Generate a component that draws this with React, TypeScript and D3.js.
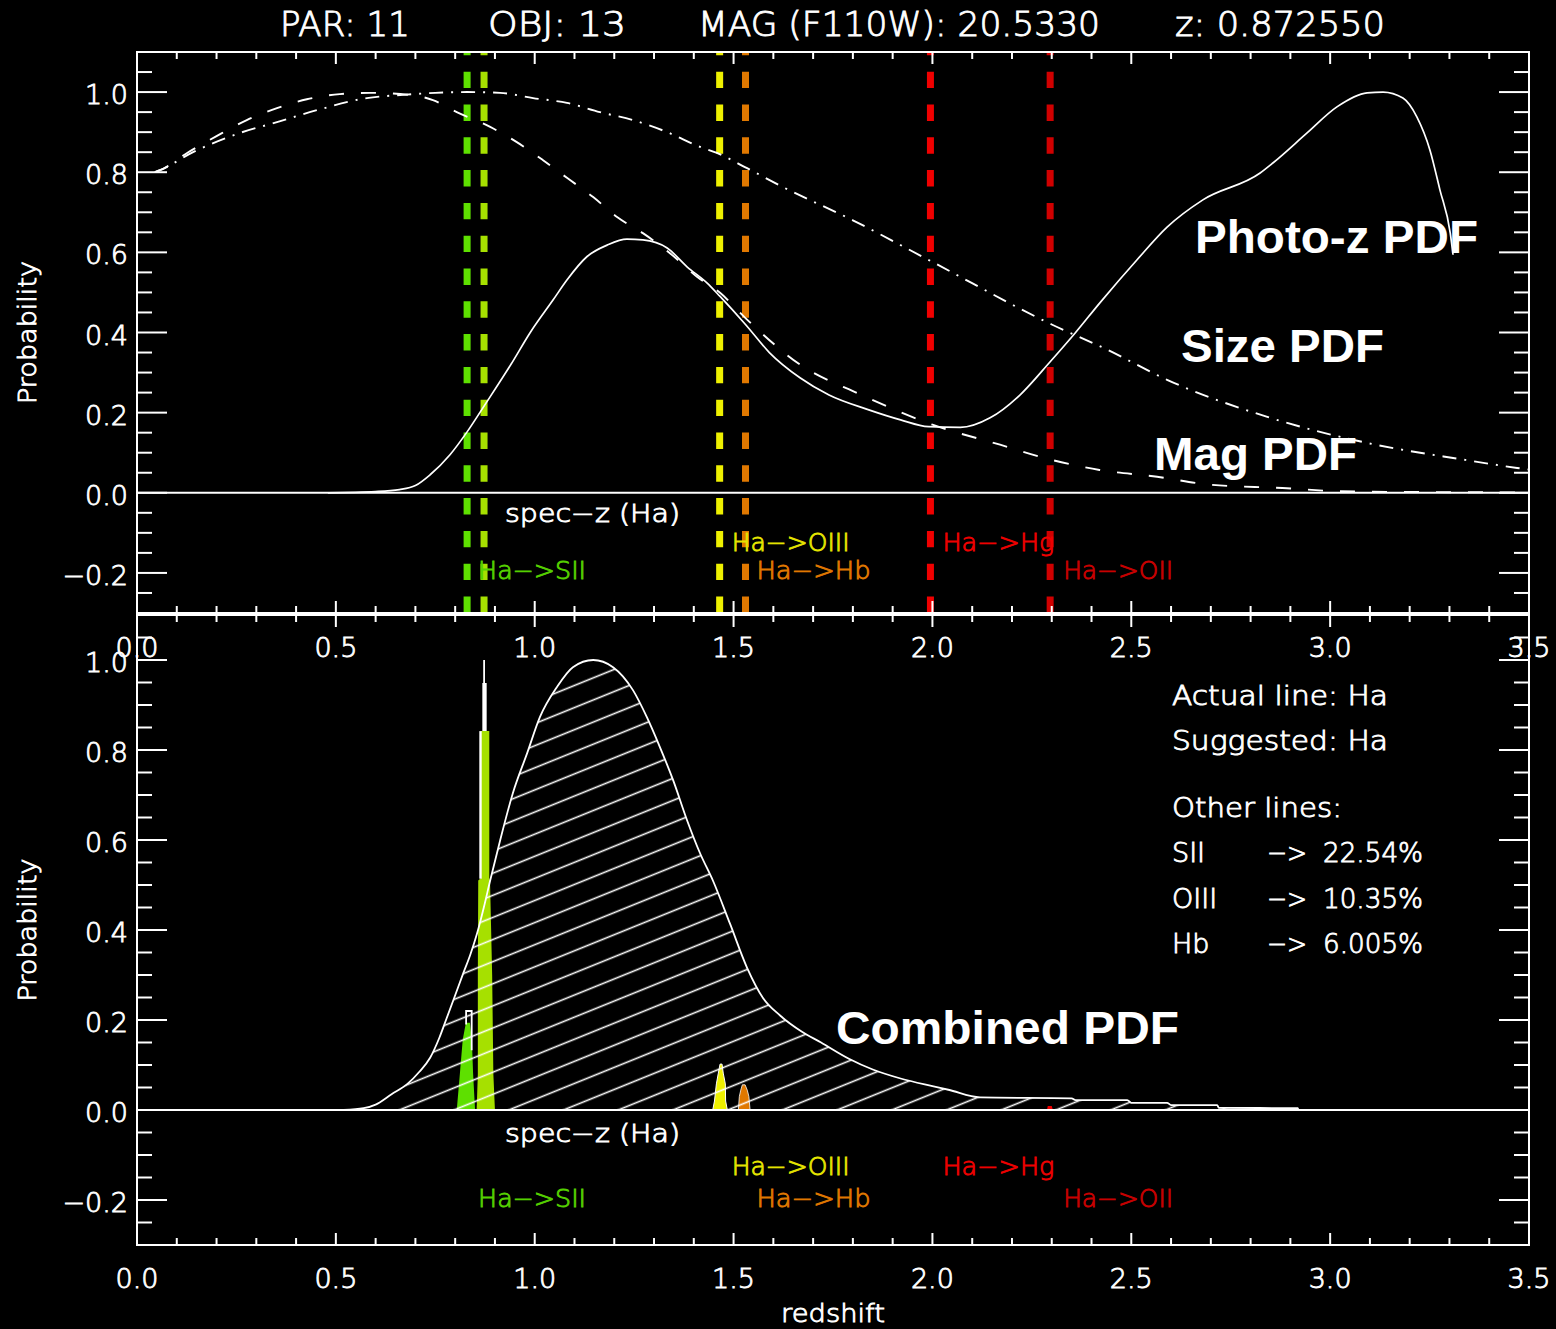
import React from 'react';
import * as d3 from 'd3';

// ---------------- data ----------------
const titleParts = ['PAR: 11', 'OBJ: 13', 'MAG (F110W): 20.5330', 'z: 0.872550'];

const xMajorTicks = [0, 0.5, 1.0, 1.5, 2.0, 2.5, 3.0, 3.5];
const xTickLabels = ['0.0', '0.5', '1.0', '1.5', '2.0', '2.5', '3.0', '3.5'];
const yMajorTicks = [-0.2, 0.0, 0.2, 0.4, 0.6, 0.8, 1.0];
const yTickLabels = ['\u22120.2', '0.0', '0.2', '0.4', '0.6', '0.8', '1.0'];

// Photo-z PDF (solid)
const photoZ: [number, number][] = [
  [0.48, 0], [0.6, 0.003], [0.66, 0.008], [0.70, 0.018], [0.737, 0.045], [0.787, 0.095],
  [0.83, 0.152], [0.875, 0.22], [0.94, 0.32], [0.99, 0.402], [1.046, 0.481], [1.081, 0.531],
  [1.131, 0.589], [1.182, 0.618], [1.232, 0.633], [1.272, 0.631], [1.333, 0.611], [1.383, 0.564],
  [1.433, 0.524], [1.466, 0.49], [1.53, 0.42], [1.59, 0.35], [1.667, 0.287], [1.74, 0.244],
  [1.84, 0.207], [1.92, 0.182], [1.99, 0.165], [2.07, 0.163], [2.145, 0.187], [2.22, 0.244],
  [2.296, 0.327], [2.36, 0.40], [2.421, 0.474], [2.514, 0.581], [2.59, 0.663], [2.68, 0.731],
  [2.824, 0.798], [2.856, 0.823], [2.942, 0.898], [3.017, 0.963], [3.093, 0.998], [3.133, 1.0],
  [3.183, 0.985], [3.218, 0.938], [3.251, 0.855], [3.276, 0.756], [3.302, 0.648], [3.309, 0.594],
];

// Mag PDF (dashed)
const magPdf: [number, number][] = [
  [0.045, 0.80], [0.058, 0.805], [0.126, 0.848], [0.2, 0.89], [0.276, 0.93], [0.352, 0.96],
  [0.427, 0.982], [0.51, 0.995], [0.586, 0.998], [0.686, 0.993], [0.744, 0.98], [0.804, 0.95],
  [0.888, 0.913], [0.955, 0.875], [1.021, 0.83], [1.081, 0.786], [1.147, 0.738], [1.207, 0.688],
  [1.272, 0.648], [1.34, 0.598], [1.408, 0.539], [1.466, 0.499], [1.53, 0.436], [1.667, 0.32],
  [1.82, 0.245], [2.0, 0.17], [2.17, 0.12], [2.3, 0.082], [2.42, 0.057], [2.565, 0.04],
  [2.7, 0.02], [2.88, 0.012], [3.02, 0.004], [3.2, 0.002], [3.48, 0.001],
];

// Size PDF (dash-dot)
const sizePdf: [number, number][] = [
  [0.045, 0.80], [0.058, 0.805], [0.141, 0.85], [0.259, 0.898], [0.352, 0.925], [0.453, 0.955],
  [0.578, 0.985], [0.669, 0.993], [0.75, 0.998], [0.83, 1.0], [0.913, 0.998], [0.996, 0.985],
  [1.081, 0.973], [1.164, 0.95], [1.247, 0.93], [1.333, 0.9], [1.416, 0.863], [1.458, 0.848],
  [1.534, 0.81], [1.624, 0.763], [1.8, 0.68], [2.0, 0.576], [2.3, 0.42], [2.44, 0.357],
  [2.59, 0.282], [2.84, 0.19], [3.09, 0.125], [3.34, 0.082], [3.47, 0.062], [3.5, 0.058],
];

// Combined PDF (hatched hump)
const combined: [number, number][] = [
  [0.52, 0], [0.57, 0.004], [0.60, 0.012], [0.64, 0.035], [0.68, 0.058], [0.71, 0.085],
  [0.737, 0.116], [0.76, 0.16], [0.779, 0.205], [0.80, 0.255], [0.82, 0.303], [0.838, 0.345],
  [0.855, 0.392], [0.872, 0.45], [0.888, 0.51], [0.913, 0.599], [0.945, 0.704], [0.981, 0.793],
  [1.013, 0.873], [1.056, 0.94], [1.096, 0.984], [1.147, 1.0], [1.197, 0.984], [1.247, 0.933],
  [1.282, 0.873], [1.315, 0.806], [1.348, 0.733], [1.383, 0.644], [1.416, 0.57], [1.448, 0.51],
  [1.491, 0.414], [1.534, 0.316], [1.574, 0.249], [1.617, 0.21], [1.67, 0.175], [1.72, 0.15],
  [1.79, 0.114], [1.85, 0.09], [1.92, 0.07], [2.0, 0.053], [2.04, 0.045], [2.12, 0.028],
  [2.35, 0.026], [2.36, 0.022], [2.49, 0.022], [2.50, 0.016], [2.59, 0.016], [2.60, 0.011],
  [2.716, 0.011], [2.72, 0.005], [2.919, 0.004], [2.92, 0],
];

// emission line redshifts (vertical markers)
const lineZ = [0.830, 0.8726, 1.465, 1.530, 1.995, 2.296];
const lineColors = ['#5ee000', '#a6e000', '#eef000', '#e07800', '#f00000', '#d00000'];
const lineLabels = ['Ha\u2212>SII', 'spec\u2212z (Ha)', 'Ha\u2212>OIII', 'Ha\u2212>Hb', 'Ha\u2212>Hg', 'Ha\u2212>OII'];
const labelColors = ['#55d000', '#ffffff', '#e4e400', '#e07800', '#ee0000', '#c80000'];
const labelRowValue = [-0.215, -0.072, -0.145, -0.215, -0.145, -0.215];

// spike profiles in the combined panel: p = probability, lo/hi = redshift edges
type Prof = { p: number; lo: number; hi: number };
const spikeSII: Prof[] = [
  { p: 0, lo: 0.804, hi: 0.850 }, { p: 0.082, lo: 0.812, hi: 0.845 },
  { p: 0.156, lo: 0.819, hi: 0.842 }, { p: 0.194, lo: 0.827, hi: 0.837 },
];
const spikeHa: Prof[] = [
  { p: 0, lo: 0.854, hi: 0.900 }, { p: 0.08, lo: 0.857, hi: 0.896 }, { p: 0.3, lo: 0.857, hi: 0.893 },
  { p: 0.51, lo: 0.858, hi: 0.8876 }, { p: 0.515, lo: 0.8642, hi: 0.8858 }, { p: 0.842, lo: 0.8642, hi: 0.8858 },
];
const spikeHaTop: Prof[] = [
  { p: 0.842, lo: 0.8683, hi: 0.8792 }, { p: 0.949, lo: 0.8683, hi: 0.8792 },
  { p: 0.949, lo: 0.8705, hi: 0.8750 }, { p: 1.0, lo: 0.8705, hi: 0.8750 },
];
const spikeOIII: Prof[] = [
  { p: 0, lo: 1.4476, hi: 1.4843 }, { p: 0.02, lo: 1.452, hi: 1.480 }, { p: 0.058, lo: 1.4568, hi: 1.4793 },
  { p: 0.082, lo: 1.4617, hi: 1.474 }, { p: 0.102, lo: 1.466, hi: 1.471 },
];
const spikeHb: Prof[] = [
  { p: 0, lo: 1.512, hi: 1.5415 }, { p: 0.03, lo: 1.5145, hi: 1.5385 },
  { p: 0.044, lo: 1.518, hi: 1.5345 }, { p: 0.056, lo: 1.522, hi: 1.529 },
];
const spikeOII: Prof[] = [
  { p: 0, lo: 2.288, hi: 2.303 }, { p: 0.009, lo: 2.290, hi: 2.300 },
];
const spikeSIIEdge: [number, number][] = [[0.8275, 0.19], [0.8275, 0.22], [0.8415, 0.22], [0.8415, 0.133]];
const spikeHaEdge: [number, number][] = [[0.8637, 0.514], [0.8637, 0.842]];

const infoLines = ['Actual line: Ha', 'Suggested: Ha', 'Other lines:'];
const otherLines = ['SII', 'OIII', 'Hb'];
const otherPct = ['22.54%', '10.35%', '6.005%'];

// ---------------- layout ----------------
const W = 1556, H = 1329;
const XL = 137, XR = 1529;
const TOP = { y0: 52, y1: 613 };
const BOT = { y0: 615, y1: 1245 };
const FONT = 'DejaVu Sans, Verdana, sans-serif';
const FW = 200;
const TS = 0.9; // stroke that thickens the thin glyphs
const BOLD = 'Liberation Sans, Arial, Helvetica, sans-serif';

const X = d3.scaleLinear().domain([0, 3.5]).range([XL, XR]);
const YT = d3.scaleLinear().domain([-0.3, 1.1]).range([TOP.y1, TOP.y0]);
const YB = d3.scaleLinear().domain([-0.3, 1.1]).range([BOT.y1, BOT.y0]);

const xMinor = d3.range(0, 36).map(i => i / 10).filter(v => Math.round(v * 10) % 5 !== 0);
const yMinor = d3.range(-5, 22).map(i => i / 20).filter(v => Math.round(v * 20) % 4 !== 0);

function Frame({ Y, y0, y1, labelBaseline }: { Y: d3.ScaleLinear<number, number>; y0: number; y1: number; labelBaseline: number }) {
  const els: React.ReactNode[] = [];
  xMajorTicks.forEach((v, i) => {
    const x = X(v);
    els.push(<line key={'xt' + i} x1={x} x2={x} y1={y0} y2={y0 + 12} />);
    els.push(<line key={'xb' + i} x1={x} x2={x} y1={y1} y2={y1 - 12} />);
  });
  xMinor.forEach((v, i) => {
    const x = X(v);
    els.push(<line key={'mxt' + i} x1={x} x2={x} y1={y0} y2={y0 + 7} />);
    els.push(<line key={'mxb' + i} x1={x} x2={x} y1={y1} y2={y1 - 7} />);
  });
  yMajorTicks.forEach((v, i) => {
    const y = Y(v);
    els.push(<line key={'yl' + i} x1={XL} x2={XL + 30} y1={y} y2={y} />);
    els.push(<line key={'yr' + i} x1={XR} x2={XR - 30} y1={y} y2={y} />);
  });
  yMinor.forEach((v, i) => {
    const y = Y(v);
    els.push(<line key={'myl' + i} x1={XL} x2={XL + 15} y1={y} y2={y} />);
    els.push(<line key={'myr' + i} x1={XR} x2={XR - 15} y1={y} y2={y} />);
  });
  return (
    <g>
      <g stroke="#fff" strokeWidth={2}>
        {els}
        <rect x={XL} y={y0} width={XR - XL} height={y1 - y0} fill="none" />
        <line x1={XL} x2={XR} y1={Y(0)} y2={Y(0)} />
      </g>
      <g fill="#fff" stroke="#fff" strokeWidth={TS} fontFamily={FONT} fontWeight={FW} fontSize={27}>
        {yMajorTicks.map((v, i) => (
          <text key={'yl' + i} x={128} y={Y(v) + 12} textAnchor="end">{yTickLabels[i]}</text>
        ))}
        {xMajorTicks.map((v, i) => (
          <text key={'xl' + i} x={X(v)} y={labelBaseline} textAnchor="middle">{xTickLabels[i]}</text>
        ))}
      </g>
      <text transform={`translate(36,${(y0 + y1) / 2}) rotate(-90)`} textAnchor="middle" fill="#fff"
        stroke="#fff" strokeWidth={TS}
        fontFamily={FONT} fontWeight={FW} fontSize={25} textLength={143} lengthAdjust="spacingAndGlyphs">Probability</text>
    </g>
  );
}

const labelWidths = [108, 175, 118, 114, 112, 110];
const labelDx = [11, 21, 12, 11, 12, 13];

function LineLabels({ Y }: { Y: d3.ScaleLinear<number, number> }) {
  return (
    <g fontFamily={FONT} fontWeight={FW} fontSize={25}>
      {lineLabels.map((t, i) => (
        <text key={i} x={X(lineZ[i]) + labelDx[i]} y={Y(labelRowValue[i])} fill={labelColors[i]}
          stroke={labelColors[i]} strokeWidth={TS}
          textLength={labelWidths[i]} lengthAdjust="spacingAndGlyphs">{t}</text>
      ))}
    </g>
  );
}

export default function App() {
  const smooth = d3.curveMonotoneX;
  const lineT = d3.line<[number, number]>().x(d => X(d[0])).y(d => YT(d[1])).curve(smooth);
  const lineB = d3.line<[number, number]>().x(d => X(d[0])).y(d => YB(d[1])).curve(smooth);
  const lineRaw = d3.line<[number, number]>().x(d => X(d[0])).y(d => YB(d[1]));
  const areaB = d3.area<[number, number]>().x(d => X(d[0])).y0(YB(0)).y1(d => YB(d[1])).curve(smooth);
  const spike = d3.area<Prof>().y(d => YB(d.p)).x0(d => X(d.lo)).x1(d => X(d.hi));

  const titleX = [280, 488, 698, 1175];
  const titleW = [130, 138, 402, 210];

  return (
    <svg width={W} height={H} style={{ position: 'absolute', left: 0, top: 0, display: 'block' }}
      xmlns="http://www.w3.org/2000/svg">
      <defs>
        <clipPath id="clipTop"><rect x={XL} y={TOP.y0} width={XR - XL} height={TOP.y1 - TOP.y0} /></clipPath>
        <clipPath id="clipBot"><rect x={XL} y={BOT.y0} width={XR - XL} height={BOT.y1 - BOT.y0} /></clipPath>
        <pattern id="hatch" patternUnits="userSpaceOnUse" width={20.5} height={20.5} patternTransform="rotate(-22)">
          <line x1={-1} y1={10.25} x2={22} y2={10.25} stroke="#fff" strokeWidth={1.6} />
        </pattern>
      </defs>
      <rect x={0} y={0} width={W} height={H} fill="#000" />

      {/* title */}
      <g fill="#fff" stroke="#fff" strokeWidth={TS} fontFamily={FONT} fontWeight={FW} fontSize={33}>
        {titleParts.map((t, i) => (
          <text key={i} x={titleX[i]} y={36} textLength={titleW[i]} lengthAdjust="spacingAndGlyphs">{t}</text>
        ))}
      </g>

      {/* ---------- top panel ---------- */}
      <g clipPath="url(#clipTop)">
        {lineZ.map((z, i) => (
          <line key={i} x1={X(z)} x2={X(z)} y1={TOP.y0} y2={TOP.y1} stroke={lineColors[i]} strokeWidth={7}
            strokeDasharray="16.4 16.4" strokeDashoffset={13.1} />
        ))}
        <path d={lineT(photoZ) || ''} fill="none" stroke="#fff" strokeWidth={1.7} />
        <path d={lineT(magPdf) || ''} fill="none" stroke="#fff" strokeWidth={1.9} strokeDasharray="15 17" />
        <path d={lineT(sizePdf) || ''} fill="none" stroke="#fff" strokeWidth={1.9} strokeDasharray="14 8 2 8" />
      </g>
      <Frame Y={YT} y0={TOP.y0} y1={TOP.y1} labelBaseline={657} />
      <LineLabels Y={YT} />
      <g fill="#fff" fontFamily={BOLD} fontWeight="bold" fontSize={46}>
        <text x={1195} y={253} textLength={283} lengthAdjust="spacingAndGlyphs">Photo-z PDF</text>
        <text x={1181} y={362} textLength={203} lengthAdjust="spacingAndGlyphs">Size PDF</text>
        <text x={1154} y={470} textLength={203} lengthAdjust="spacingAndGlyphs">Mag PDF</text>
      </g>

      {/* ---------- bottom panel ---------- */}
      <g clipPath="url(#clipBot)">
        <path d={spike(spikeSII) || ''} fill={lineColors[0]} />
        <path d={spike(spikeHa) || ''} fill={lineColors[1]} />
        <path d={spike(spikeOIII) || ''} fill={lineColors[2]} stroke="#fff" strokeWidth={1} />
        <path d={spike(spikeHb) || ''} fill={lineColors[3]} stroke="#fff" strokeWidth={0.8} />
        <path d={spike(spikeOII) || ''} fill={lineColors[4]} />
        <path d={areaB(combined) || ''} fill="url(#hatch)" />
        <path d={lineB(combined) || ''} fill="none" stroke="#fff" strokeWidth={1.8} />
        <path d={spike(spikeHaTop) || ''} fill="#fff" />
        <path d={lineRaw(spikeHaEdge) || ''} fill="none" stroke="#fff" strokeWidth={2.4} />
        <path d={lineRaw(spikeSIIEdge) || ''} fill="none" stroke="#fff" strokeWidth={1.8} />
      </g>
      <Frame Y={YB} y0={BOT.y0} y1={BOT.y1} labelBaseline={1288} />
      <LineLabels Y={YB} />
      <text x={(XL + XR) / 2} y={1322} textAnchor="middle" fill="#fff" stroke="#fff" strokeWidth={TS}
        fontFamily={FONT} fontWeight={FW} fontSize={25}
        textLength={104} lengthAdjust="spacingAndGlyphs">redshift</text>

      <text x={836} y={1044} fill="#fff" fontFamily={BOLD} fontWeight="bold" fontSize={46}
        textLength={343} lengthAdjust="spacingAndGlyphs">Combined PDF</text>

      <g fill="#fff" stroke="#fff" strokeWidth={TS} fontFamily={FONT} fontWeight={FW} fontSize={27}>
        <text x={1172} y={705} textLength={216} lengthAdjust="spacingAndGlyphs">{infoLines[0]}</text>
        <text x={1172} y={750} textLength={216} lengthAdjust="spacingAndGlyphs">{infoLines[1]}</text>
        <text x={1172} y={817} textLength={170} lengthAdjust="spacingAndGlyphs">{infoLines[2]}</text>
        {otherLines.map((n, i) => (
          <g key={n}>
            <text x={1172} y={862 + i * 45.5}>{n}</text>
            <text x={1267} y={862 + i * 45.5} textLength={40} lengthAdjust="spacingAndGlyphs">{'\u2212>'}</text>
            <text x={1323} y={862 + i * 45.5} textLength={100} lengthAdjust="spacingAndGlyphs">{otherPct[i]}</text>
          </g>
        ))}
      </g>
    </svg>
  );
}
